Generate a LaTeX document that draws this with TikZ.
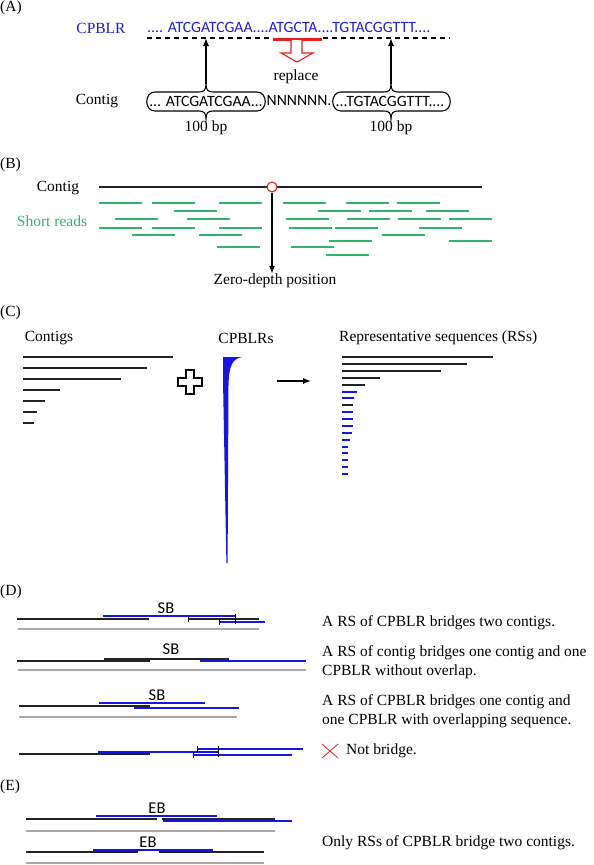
\documentclass[tikz,border=0pt]{standalone}
\usepackage{fontspec}
\setmainfont{Liberation Serif}
\newfontfamily\seqfont{Carlito}
\usetikzlibrary{arrows.meta}

\definecolor{seqblue}{RGB}{30,30,220}
\definecolor{rsblue}{RGB}{20,20,235}
\definecolor{readgreen}{RGB}{50,180,110}
\definecolor{refgray}{RGB}{170,170,170}
\definecolor{linegray}{RGB}{35,35,35}
\definecolor{markred}{RGB}{230,30,30}

\tikzset{
  lbl/.style={font=\fontsize{15.5}{19}\selectfont, inner sep=0pt},
  seq/.style={font=\seqfont\fontsize{15.7}{18}\selectfont, inner sep=0pt},
  tag/.style={font=\seqfont\fontsize{16.5}{18}\selectfont, inner sep=0pt},
  contig/.style={draw=linegray, line width=1.6pt},
  rsline/.style={draw=rsblue, line width=1.5pt},
  refline/.style={draw=refgray, line width=2pt},
  read/.style={draw=readgreen, line width=1.3pt},
  endtick/.style={draw=black, line width=0.5pt},
  arr/.style={-{Latex[length=8pt,width=6pt]}, line width=1.2pt},
}

% box with a brace on top and below: left x, right x, middle x
\newcommand{\seqbox}[3]{%
  \draw[line width=1.1pt] (#1+8,92) -- (#3-7,92)
    .. controls (#3-2,92) and (#3,90) .. (#3,84)
    .. controls (#3,90) and (#3+2,92) .. (#3+7,92) -- (#2-8,92)
    .. controls (#2+3,92) and (#2+3,111) .. (#2-8,111) -- (#3+7,111)
    .. controls (#3+2,111) and (#3,113) .. (#3,119)
    .. controls (#3,113) and (#3-2,111) .. (#3-7,111) -- (#1+8,111)
    .. controls (#1-3,111) and (#1-3,92) .. cycle;}

\begin{document}
\begin{tikzpicture}[x=1pt, y=-1pt]
\useasboundingbox (0,0) rectangle (594,865);

% (A) filling the gap
\node[lbl, anchor=west] (labA) at (0,8) {(A)};
\node[lbl, text=seqblue] (cpblrA) at (101,28) {CPBLR};
\node[seq, text=seqblue, anchor=west] (seqA) at (147,27) {.... ATCGATCGAA....ATGCTA....TGTACGGTTT....};
\draw[line width=1.1pt, dash pattern=on 5pt off 4pt] (147,38) -- (273,38);
\draw[line width=1.1pt, dash pattern=on 5pt off 4pt] (323,38) -- (450,38);
\draw[markred, line width=3pt] (273,39) -- (322,39);
\draw[markred, line width=1.1pt, fill=white] (291,40) -- (291,53) -- (281,53) -- (297,62)
  -- (313,53) -- (302,53) -- (302,40);
\node[lbl] (replace) at (296,77) {replace};
\node[lbl] (contigA) at (97,101) {Contig};
\seqbox{147}{265}{206}
\seqbox{333}{450}{391}
\node[seq] (leftseq) at (206,101) {... ATCGATCGAA...};
\node[seq] (gap) at (299,101) {NNNNNN.};
\node[seq] (rightseq) at (390,101) {...TGTACGGTTT....};
\coordinate (tipL) at (206,84);
\coordinate (tipR) at (391,84);
\coordinate (hitL) at (206,38);
\coordinate (hitR) at (391,38);
\draw[arr] (tipL) -- (hitL);
\draw[arr] (tipR) -- (hitR);
\node[lbl] (bpL) at (206,128) {100 bp};
\node[lbl] (bpR) at (391,128) {100 bp};

% (B) zero-depth position
\node[lbl, anchor=west] (labB) at (0,165) {(B)};
\node[lbl] (contigB) at (58,188) {Contig};
\draw[contig, line width=1.4pt] (99,187) -- (482,187);
\node[lbl, text=readgreen] (reads) at (52,221) {Short reads};
\foreach \x/\y in {99/203, 152/203, 219/203, 283/203, 346/203, 397/203,
                   174/211, 318/211, 369/211, 426/211,
                   115/219, 187/219, 286/219, 347/219, 398/219, 449/219,
                   99/228, 152/228, 219/228, 289/228, 335/228, 419/228,
                   132/235, 199/235, 382/235,
                   329/241, 449/241,
                   217/247, 291/247,
                   326/255} {
    \draw[read] (\x,\y) -- ++(43,0);
}
\node[circle, draw=markred, fill=white, line width=1.1pt, minimum size=10pt, inner sep=0pt] (zd) at (272,187) {};
\node[lbl] (zdtxt) at (275,281) {Zero-depth position};
\draw[arr] (zd) -- (zd |- zdtxt.north);

% (C) contigs + CPBLRs -> RSs
\node[lbl, anchor=west] (labC) at (0,313) {(C)};
\node[lbl] (contigsC) at (49,338) {Contigs};
\foreach \y/\xe in {357/173, 368/147, 379/121, 390/60, 401/45, 412/37, 423/34} {
    \draw[contig] (23,\y) -- (\xe,\y);
}
\draw[line width=1.2pt, fill=white] (186,370) -- (194,370) -- (194,378) -- (202,378) -- (202,386)
  -- (194,386) -- (194,394) -- (186,394) -- (186,386) -- (178,386) -- (178,378) -- (186,378) -- cycle;
\node[lbl] (cpblrC) at (246,338) {CPBLRs};
\fill[rsblue] (223,357) -- (242,357) .. controls (232,359) and (229,366) .. (228.5,385)
  -- (227.6,563) -- (226.4,563) -- (223,380) -- cycle;
\coordinate (arrS) at (277,381);
\coordinate (arrE) at (311,381);
\draw[arr] (arrS) -- (arrE);
\node[lbl, anchor=west] (rsC) at (339,338) {Representative sequences (RSs)};
\foreach \y/\xe/\c in {357/493/linegray, 364/467/linegray, 371/441/linegray, 378/380/linegray,
                       385/365/linegray, 392/357/rsblue, 398/354/rsblue, 405/353/linegray,
                       412/353/rsblue, 419/353/rsblue, 426/353/rsblue, 433/352/rsblue,
                       440/350/rsblue, 447/348/rsblue, 453/348/rsblue, 460/348/rsblue,
                       467/348/rsblue, 474/348/rsblue} {
    \draw[draw=\c, line width=1.4pt] (342,\y) -- (\xe,\y);
}

% (D) short bridges
\node[lbl, anchor=west] (labD) at (0,592) {(D)};
% row 1
\draw[contig] (17,619) -- (149,619);
\draw[rsline] (103,616) -- (235,616);
\draw[contig] (188,619) -- (259,619);
\draw[rsline] (219,622) -- (265,622);
\draw[endtick] (188,617) -- (188,622);
\draw[endtick] (219,618) -- (219,625);
\draw[endtick] (235,614) -- (235,624);
\draw[refline] (18,629) -- (259,629);
\node[tag] (sb1) at (166,608) {SB};
\node[lbl, anchor=west] (txt1) at (322,623) {A RS of CPBLR bridges two contigs.};
% row 2
\draw[contig] (17,661) -- (150,661);
\draw[contig] (104,659) -- (229,659);
\draw[rsline] (200,661) -- (306,661);
\draw[refline] (18,670) -- (306,670);
\node[tag] (sb2) at (171,649) {SB};
\node[lbl, anchor=west, align=left] (txt2) at (322,662) {A RS of contig bridges one contig and one\\CPBLR without overlap.};
% row 3
\draw[contig] (19,706) -- (150,706);
\draw[rsline] (99,703) -- (205,703);
\draw[rsline] (134,708) -- (239,708);
\draw[refline] (19,717) -- (237,717);
\node[tag] (sb3) at (157,695) {SB};
\node[lbl, anchor=west, align=left] (txt3) at (322,711) {A RS of CPBLR bridges one contig and\\one CPBLR with overlapping sequence.};
% row 4
\draw[contig] (19,754) -- (150,754);
\draw[rsline] (98,752) -- (218,752);
\draw[rsline] (197,749) -- (303,749);
\draw[rsline] (193,755) -- (292,755);
\draw[endtick] (197,746) -- (197,753);
\draw[endtick] (218,746) -- (218,757);
\draw[endtick] (193,752) -- (193,758);
\draw[markred, line width=0.8pt] (322,744) -- (338,758);
\draw[markred, line width=0.8pt] (322,758) -- (338,744);
\node[lbl, anchor=west] (txt4) at (346,751) {Not bridge.};

% (E) extended bridges
\node[lbl, anchor=west] (labE) at (0,787) {(E)};
\draw[contig] (26,819) -- (157,819);
\draw[contig] (162,819) -- (275,819);
\draw[rsline] (96,816) -- (217,816);
\draw[rsline] (163,821) -- (292,821);
\draw[refline] (26,831) -- (275,831);
\node[tag] (eb1) at (157,808) {EB};
\draw[contig] (26,852) -- (138,852);
\draw[contig] (159,852) -- (264,852);
\draw[rsline] (93,850) -- (213,850);
\draw[refline] (26,863) -- (264,863);
\node[tag] (eb2) at (148,842) {EB};
\node[lbl, anchor=west] (txt5) at (322,843) {Only RSs of CPBLR bridge two contigs.};

\end{tikzpicture}
\end{document}
